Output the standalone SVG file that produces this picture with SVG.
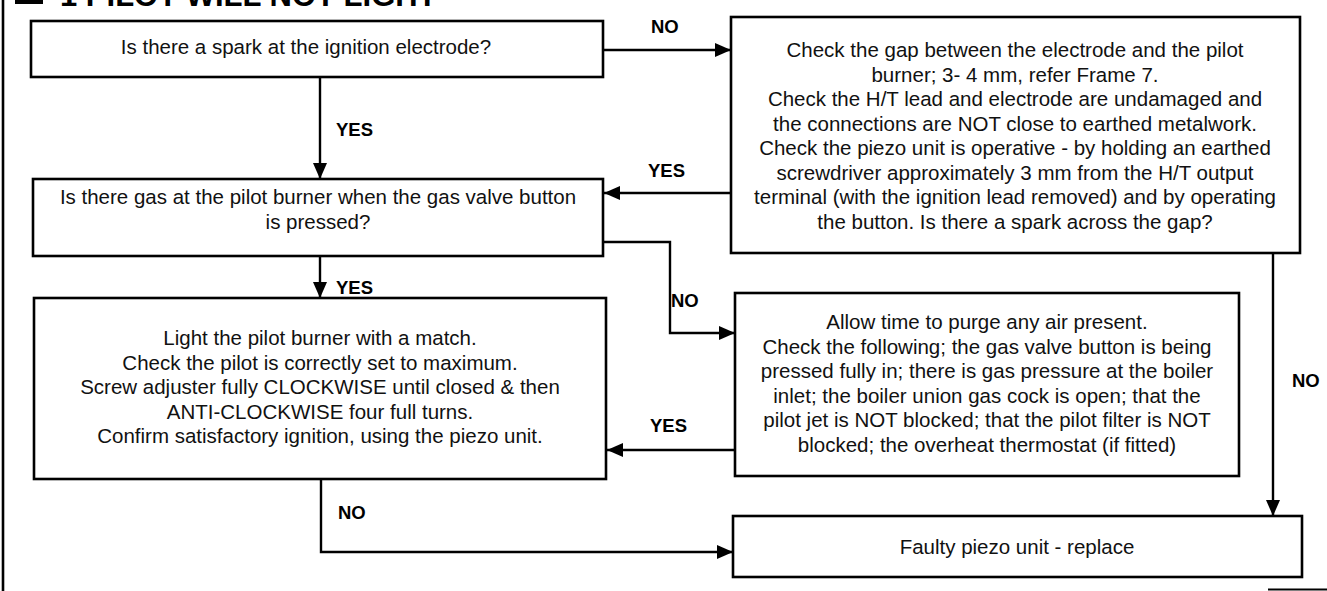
<svg xmlns="http://www.w3.org/2000/svg" width="1327" height="591" viewBox="0 0 1327 591">
<style>
.box{fill:#fff;stroke:#000;stroke-width:2.6}
.t{font-family:"Liberation Sans",Arial,sans-serif;font-size:20.5px;fill:#111;text-anchor:middle}
.lbl{font-family:"Liberation Sans",Arial,sans-serif;font-size:18.5px;font-weight:bold;fill:#000}
.c{fill:none;stroke:#000;stroke-width:2.4}
.title{font-family:"Liberation Sans",Arial,sans-serif;font-size:31px;font-weight:bold;fill:#000}
</style>
<defs>
<marker id="ah" viewBox="0 0 16 14" refX="16" refY="7" markerWidth="16" markerHeight="14" markerUnits="userSpaceOnUse" orient="auto">
<path d="M0,0 L16,7 L0,14 Z" fill="#000"/>
</marker>
</defs>
<rect width="1327" height="591" fill="#fff"/>
<g id="frame">
<line x1="3" y1="0" x2="3" y2="591" stroke="#000" stroke-width="2.6"/>
<rect x="15" y="-10" width="28" height="14" fill="#000"/>
<text class="title" x="60" y="6">1 PILOT WILL NOT LIGHT</text>
<line x1="1268" y1="589.5" x2="1327" y2="589.5" stroke="#000" stroke-width="2"/>
</g>
<g id="connectors">
<path class="c" d="M603,50 H731" marker-end="url(#ah)"/>
<path class="c" d="M320,77 V179" marker-end="url(#ah)"/>
<path class="c" d="M731,193 H604" marker-end="url(#ah)"/>
<path class="c" d="M320,256 V298" marker-end="url(#ah)"/>
<path class="c" d="M603,242 H670 V333 H735" marker-end="url(#ah)"/>
<path class="c" d="M735,450 H607" marker-end="url(#ah)"/>
<path class="c" d="M321,479 V552 H733" marker-end="url(#ah)"/>
<path class="c" d="M1273,253 V516" marker-end="url(#ah)"/>
<text class="lbl" x="651" y="33">NO</text>
<text class="lbl" x="336" y="136">YES</text>
<text class="lbl" x="648" y="177">YES</text>
<text class="lbl" x="336" y="294">YES</text>
<text class="lbl" x="671" y="307">NO</text>
<text class="lbl" x="650" y="432">YES</text>
<text class="lbl" x="338" y="519">NO</text>
<text class="lbl" x="1292" y="387">NO</text>
</g>
<g id="n1">
<rect class="box" x="31" y="21" width="572" height="56"/>
<text class="t" x="306" y="54">Is there a spark at the ignition electrode?</text>
</g>
<g id="n2">
<rect class="box" x="731" y="17" width="569" height="236"/>
<text class="t" x="1015" y="57">Check the gap between the electrode and the pilot</text>
<text class="t" x="1015" y="81.5">burner; 3- 4 mm, refer Frame 7.</text>
<text class="t" x="1015" y="106">Check the H/T lead and electrode are undamaged and</text>
<text class="t" x="1015" y="130.5">the connections are NOT close to earthed metalwork.</text>
<text class="t" x="1015" y="155">Check the piezo unit is operative - by holding an earthed</text>
<text class="t" x="1015" y="179.5">screwdriver approximately 3 mm from the H/T output</text>
<text class="t" x="1015" y="204">terminal (with the ignition lead removed) and by operating</text>
<text class="t" x="1015" y="228.5">the button. Is there a spark across the gap?</text>
</g>
<g id="n3">
<rect class="box" x="33" y="179" width="570" height="77"/>
<text class="t" x="318" y="204">Is there gas at the pilot burner when the gas valve button</text>
<text class="t" x="318" y="228.5">is pressed?</text>
</g>
<g id="n4">
<rect class="box" x="34" y="298" width="572" height="181"/>
<text class="t" x="320" y="345">Light the pilot burner with a match.</text>
<text class="t" x="320" y="369.5">Check the pilot is correctly set to maximum.</text>
<text class="t" x="320" y="394">Screw adjuster fully CLOCKWISE until closed &amp; then</text>
<text class="t" x="320" y="418.5">ANTI-CLOCKWISE four full turns.</text>
<text class="t" x="320" y="443">Confirm satisfactory ignition, using the piezo unit.</text>
</g>
<g id="n5">
<rect class="box" x="735" y="293" width="504" height="183"/>
<text class="t" x="987" y="329">Allow time to purge any air present.</text>
<text class="t" x="987" y="353.5">Check the following; the gas valve button is being</text>
<text class="t" x="987" y="378">pressed fully in; there is gas pressure at the boiler</text>
<text class="t" x="987" y="402.5">inlet; the boiler union gas cock is open; that the</text>
<text class="t" x="987" y="427">pilot jet is NOT blocked; that the pilot filter is NOT</text>
<text class="t" x="987" y="451.5">blocked; the overheat thermostat (if fitted)</text>
</g>
<g id="n6">
<rect class="box" x="733" y="516" width="569" height="61"/>
<text class="t" x="1017" y="554">Faulty piezo unit - replace</text>
</g>
</svg>
